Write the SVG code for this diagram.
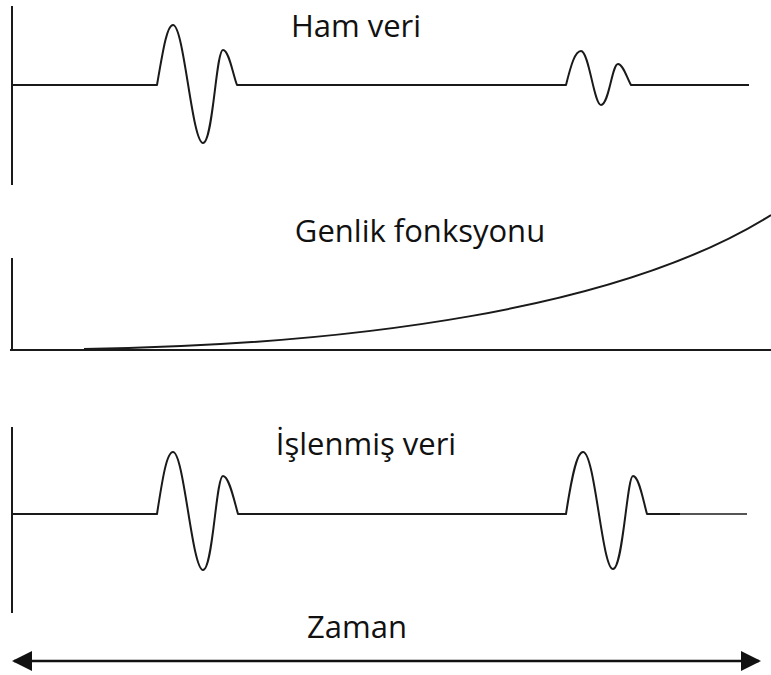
<svg xmlns="http://www.w3.org/2000/svg" width="771" height="675" viewBox="0 0 771 675">
<style>
.ln{fill:none;stroke:#1a1a1a;stroke-width:2;stroke-linejoin:round}
.lbl{font-family:"Open Sans","Liberation Sans",sans-serif;font-size:31px;fill:#111;text-anchor:middle}
</style>
<defs>
<marker id="ah" viewBox="0 0 10 10" refX="9" refY="5" markerWidth="20" markerHeight="20" markerUnits="userSpaceOnUse" orient="auto-start-reverse">
<path d="M0,0 L10,5 L0,10 Z" fill="#111"/>
</marker>
</defs>
<rect width="771" height="675" fill="#fff"/>
<g id="raw">
<line class="ln" x1="12" y1="6" x2="12" y2="185"/>
<path class="ln" d="M12,85 H157 C163,50 167,25 173,25 C184,25 192,143 203,143 C213,143 216,50 223,50 C229,50 233,75 237,85 H566 C571,65 575,51 581,51 C589,51 594,105 601,105 C609,105 612,64 618,64 C623,64 627,78 631,85 H749"/>
<text class="lbl" x="356" y="37">Ham veri</text>
</g>
<g id="gain">
<line class="ln" x1="12" y1="258" x2="12" y2="351"/>
<line class="ln" x1="10" y1="350" x2="771" y2="350"/>
<path class="ln" d="M84,349 C350,345 620,310 771,215"/>
<text class="lbl" x="420" y="242">Genlik fonksyonu</text>
</g>
<g id="processed">
<line class="ln" x1="12" y1="427" x2="12" y2="613"/>
<path class="ln" d="M12,514 H157 C163,475 167,452 173,452 C184,452 192,570 203,570 C213,570 216,476 223,476 C229,476 234,500 238,514 H566 C572,475 577,452 583,452 C595,452 602,569 613,569 C623,569 627,476 633,476 C639,476 643,500 647,514 H680"/>
<line x1="680" y1="514" x2="747" y2="514" stroke="#555" stroke-width="2"/>
<text class="lbl" x="366" y="455">İşlenmiş veri</text>
</g>
<g id="connectors">
<line x1="14" y1="661" x2="759" y2="661" stroke="#111" stroke-width="2.5" marker-start="url(#ah)" marker-end="url(#ah)"/>
<text class="lbl" x="357" y="638">Zaman</text>
</g>
</svg>
